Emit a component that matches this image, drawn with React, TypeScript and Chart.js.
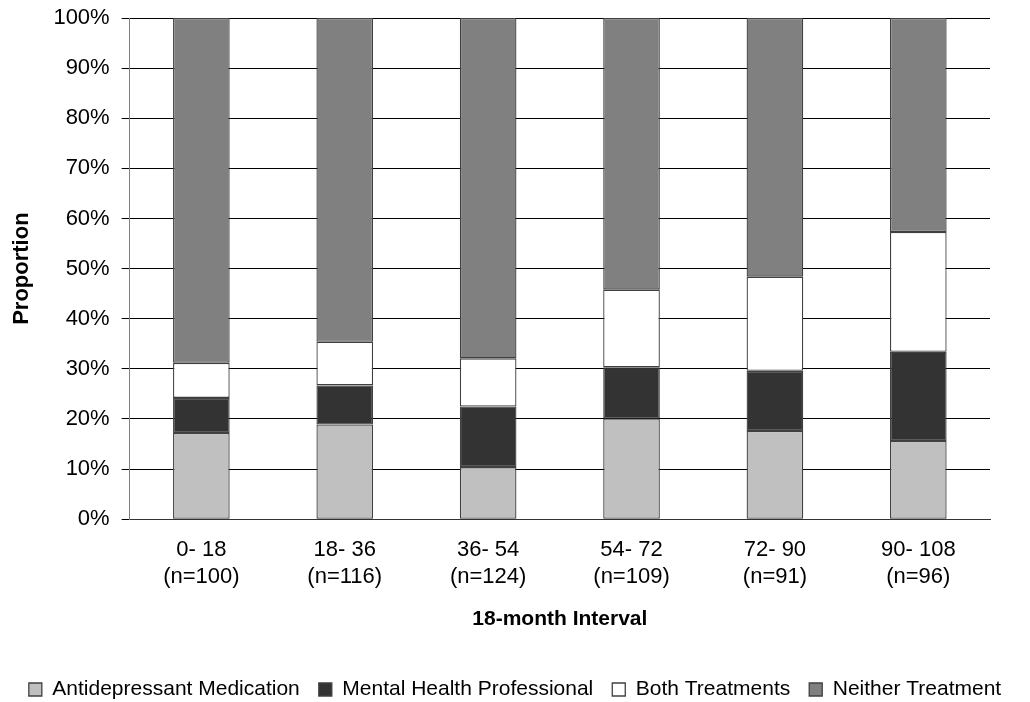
import React, { useEffect, useRef } from "react";
import { Chart, registerables } from "chart.js";

Chart.register(...registerables);

const intervals = ["0- 18", "18- 36", "36- 54", "54- 72", "72- 90", "90- 108"];
const sampleSizes = ["(n=100)", "(n=116)", "(n=124)", "(n=109)", "(n=91)", "(n=96)"];

const antidepressant = [17.2, 18.9, 10.4, 20.1, 17.6, 15.6];
const mentalHealth = [7.0, 7.8, 12.1, 10.2, 12.0, 17.8];
const bothTreatments = [7.0, 8.7, 9.6, 15.5, 18.8, 23.9];
const neitherTreatment = [68.8, 64.6, 67.9, 54.2, 51.6, 42.7];

const yTicks = [0, 10, 20, 30, 40, 50, 60, 70, 80, 90, 100];

const FONT = "'Liberation Sans', Arial, sans-serif";

export default function App() {
  const ref = useRef<HTMLCanvasElement | null>(null);

  useEffect(() => {
    if (!ref.current) return;
    const labels = intervals.map((s, i) => [s, sampleSizes[i]]);
    const mk = (label: string, data: number[], color: string) => ({
      label,
      data,
      backgroundColor: color,
      borderColor: "#404040",
      borderWidth: 1.3,
      borderSkipped: false as const,
      barPercentage: 0.395,
      categoryPercentage: 1,
    });
    const chart = new Chart(ref.current, {
      type: "bar",
      data: {
        labels,
        datasets: [
          mk("Antidepressant Medication", antidepressant, "#c0c0c0"),
          mk("Mental Health Professional", mentalHealth, "#333333"),
          mk("Both Treatments", bothTreatments, "#ffffff"),
          mk("Neither Treatment", neitherTreatment, "#808080"),
        ],
      },
      options: {
        animation: false,
        responsive: false,
        maintainAspectRatio: false,
        layout: { padding: { left: 0, right: 0, top: 0, bottom: -8 } },
        plugins: {
          tooltip: { enabled: false },
          legend: {
            position: "bottom",
            labels: {
              boxWidth: 13,
              boxHeight: 13,
              padding: 19,
              color: "#000",
              font: { family: FONT, size: 21 },
            },
          },
        },
        scales: {
          x: {
            stacked: true,
            grid: { display: false, drawTicks: false },
            border: { display: true, color: "#333", width: 1 },
            ticks: {
              color: "#000",
              font: { family: FONT, size: 22 },
              padding: 18,
              maxRotation: 0,
            },
            title: {
              display: true,
              text: "18-month Interval",
              color: "#000",
              font: { family: FONT, size: 21, weight: "bold", lineHeight: 1 },
              padding: { top: 1, bottom: 30 },
            },
          },
          y: {
            stacked: true,
            min: 0,
            max: 100,
            afterBuildTicks: (axis: any) => {
              axis.ticks = yTicks.map((v) => ({ value: v }));
            },
            grid: {
              color: "#000",
              lineWidth: 1,
              drawTicks: true,
              tickLength: 8,
            },
            border: { display: true, color: "#808080", width: 1 },
            ticks: {
              color: "#000",
              font: { family: FONT, size: 22, lineHeight: 0.55 },
              padding: 12,
              callback: (v: any) => `${v}%`,
            },
            title: {
              display: true,
              text: "Proportion",
              color: "#000",
              font: { family: FONT, size: 22, weight: "bold" },
              padding: { top: 9, bottom: 6 },
            },
          },
          yRight: {
            position: "right",
            display: true,
            grid: { display: false, drawTicks: false },
            border: { display: false },
            ticks: { display: false },
            afterFit: (s: any) => {
              s.width = 40;
            },
          },
        },
      },
    });
    return () => chart.destroy();
  }, []);

  return (
    <div style={{ position: "absolute", left: 0, top: 0, width: 1030, height: 702, background: "#fff" }}>
      <canvas ref={ref} width={1030} height={702} style={{ width: 1030, height: 702 }} />
    </div>
  );
}
